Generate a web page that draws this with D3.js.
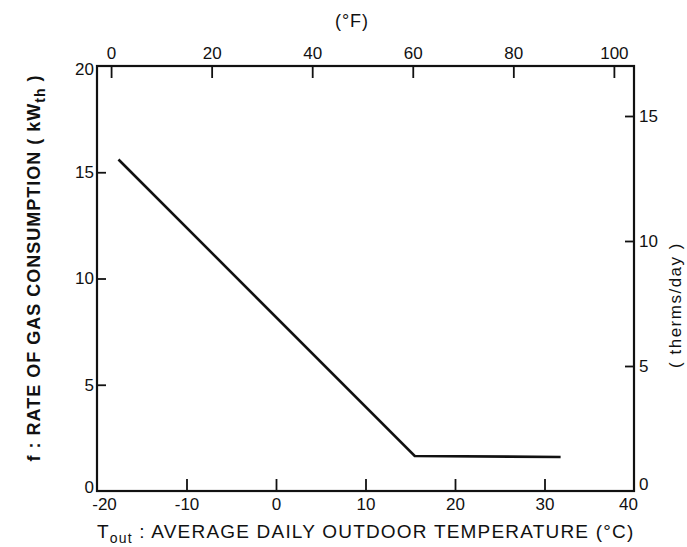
<!DOCTYPE html>
<html>
<head>
<meta charset="utf-8">
<script src="https://cdn.jsdelivr.net/npm/d3@7"></script>
<style>
  body { margin: 0; background: #fff; }
  svg text { font-family: "Liberation Sans", "DejaVu Sans", sans-serif; fill: #111; }
</style>
</head>
<body>
<div id="chart"></div>
<script>
// data
const tempC = [-17.6, 15.5, 31.8];
const gasKw = [15.6, 1.65, 1.6];

const bottomTicks = [-20, -10, 0, 10, 20, 30, 40];
const topTicks = [0, 20, 40, 60, 80, 100];
const leftTicks = [0, 5, 10, 15, 20];
const rightTicks = [0, 5, 10, 15];

const W = 687, H = 547;
const plotL = 97, plotR = 634, plotT = 66, plotB = 491;

const svg = d3.select("#chart").append("svg")
  .attr("width", W).attr("height", H);

const x = d3.scaleLinear().domain([-20, 40]).range([plotL, plotR]);
// the °F scale on the original is drawn a little offset, so read it off the picture
const xF = d3.scaleLinear().domain([-2.8, 104]).range([plotL, plotR]);
const y = d3.scaleLinear().domain([0, 20]).range([plotB, plotT]);
const yT = d3.scaleLinear().domain([0, 17]).range([plotB, plotT]);

// frame
svg.append("rect")
  .attr("x", plotL).attr("y", plotT)
  .attr("width", plotR - plotL).attr("height", plotB - plotT)
  .attr("fill", "none").attr("stroke", "#111").attr("stroke-width", 2.2);

const fmt = d => String(d);

function styleAxis(g) {
  g.select(".domain").remove();
  g.selectAll(".tick line").attr("stroke", "#111").attr("stroke-width", 1.8);
  g.selectAll(".tick text").style("font-size", "17px").attr("fill", "#111");
}

// bottom (°C)
svg.append("g").attr("transform", `translate(0,${plotB})`)
  .call(d3.axisBottom(x).tickValues(bottomTicks).tickFormat(fmt).tickSizeInner(-12).tickPadding(7))
  .call(styleAxis)
  .call(g => g.selectAll(".tick").filter(d => d === -20 || d === 40).select("line").remove())
  .call(g => g.selectAll(".tick").filter(d => d === -20).select("text").attr("dx", 7))
  .call(g => g.selectAll(".tick").filter(d => d === 40).select("text").attr("dx", -6));

// top (°F)
svg.append("g").attr("transform", `translate(0,${plotT})`)
  .call(d3.axisTop(xF).tickValues(topTicks).tickFormat(fmt).tickSizeInner(-12).tickPadding(7))
  .call(styleAxis);

// left (kW)
svg.append("g").attr("transform", `translate(${plotL},0)`)
  .call(d3.axisLeft(y).tickValues(leftTicks).tickFormat(fmt).tickSizeInner(-9).tickPadding(3))
  .call(styleAxis)
  .call(g => g.selectAll(".tick").filter(d => d === 0 || d === 20).select("line").remove())
  .call(g => g.selectAll(".tick").filter(d => d === 0).select("text").attr("dy", "0.1em"))
  .call(g => g.selectAll(".tick").filter(d => d === 20).select("text").attr("dy", "0.5em"));

// right (therms/day)
svg.append("g").attr("transform", `translate(${plotR},0)`)
  .call(d3.axisRight(yT).tickValues(rightTicks).tickFormat(fmt).tickSizeInner(-9).tickPadding(5))
  .call(styleAxis)
  .call(g => g.selectAll(".tick").filter(d => d === 0).select("line").remove())
  .call(g => g.selectAll(".tick").filter(d => d === 0).select("text").attr("dy", "-0.1em"));

// consumption line
const pts = tempC.map((t, i) => [t, gasKw[i]]);
svg.append("path")
  .datum(pts)
  .attr("fill", "none")
  .attr("stroke", "#111")
  .attr("stroke-width", 2.6)
  .attr("stroke-linejoin", "miter")
  .attr("d", d3.line().x(d => x(d[0])).y(d => y(d[1])));

// titles
svg.append("text")
  .attr("x", 352).attr("y", 27)
  .attr("text-anchor", "middle")
  .style("font-size", "18px")
  .style("letter-spacing", "1px")
  .text("(°F)");

const xt = svg.append("text")
  .attr("x", 97).attr("y", 538)
  .style("font-size", "19px")
  .style("letter-spacing", "1.2px");
xt.append("tspan").text("T");
xt.append("tspan").attr("dy", 5).style("font-size", "14px").text("out");
xt.append("tspan").attr("dy", -5).text(" : AVERAGE DAILY OUTDOOR TEMPERATURE (°C)");

const yl = svg.append("text")
  .attr("transform", "translate(40,268) rotate(-90)")
  .attr("text-anchor", "middle")
  .style("font-size", "18px")
  .style("font-weight", "bold")
  .style("letter-spacing", "1px");
yl.append("tspan").text("f : RATE OF GAS CONSUMPTION ( kW");
yl.append("tspan").attr("dy", 5).style("font-size", "14px").text("th");
yl.append("tspan").attr("dy", -5).text(" )");

svg.append("text")
  .attr("transform", "translate(681,305) rotate(-90)")
  .attr("text-anchor", "middle")
  .style("font-size", "17px")
  .style("letter-spacing", "1.5px")
  .text("( therms/day )");
</script>
</body>
</html>
